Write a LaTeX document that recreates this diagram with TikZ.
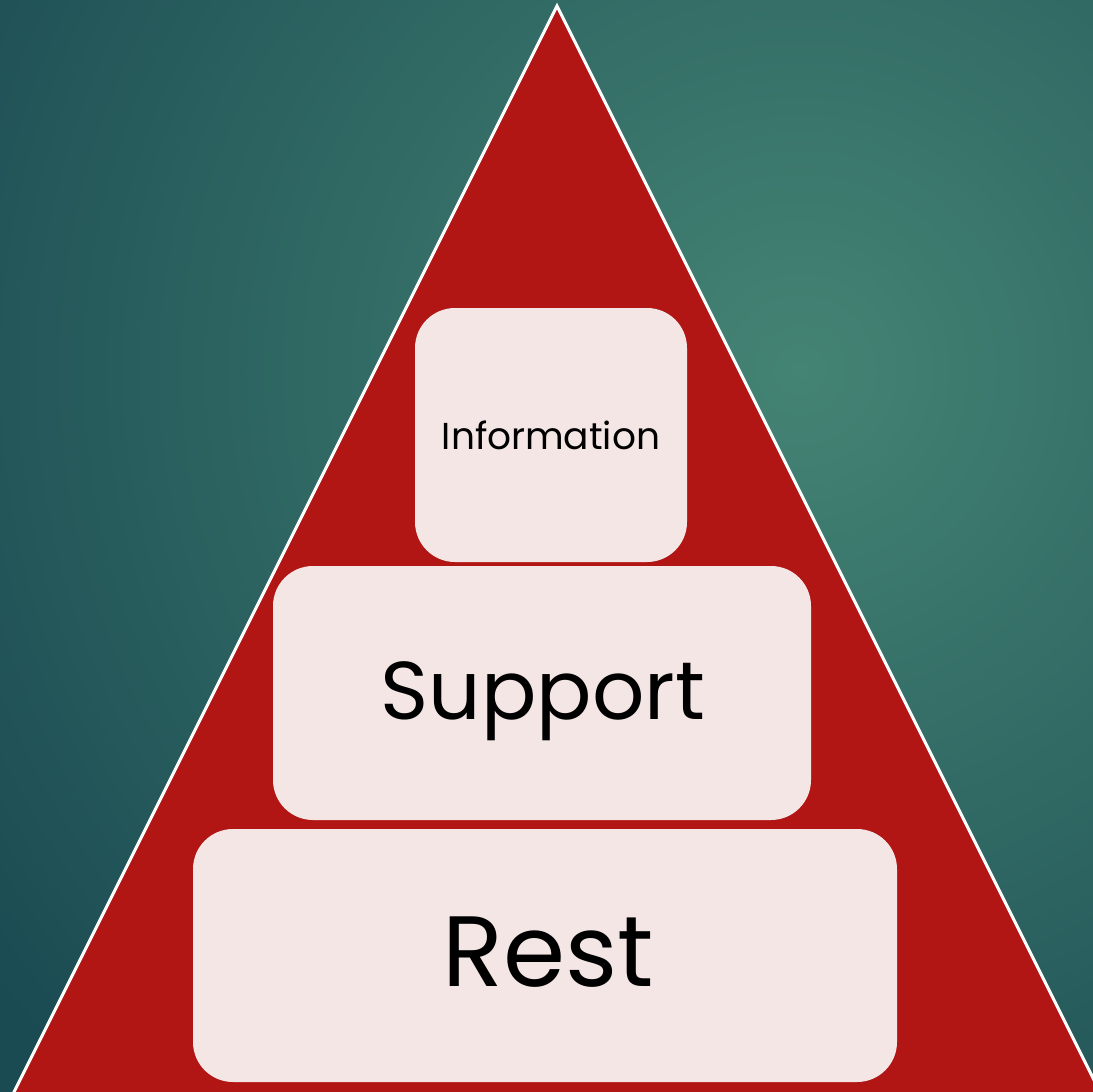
\documentclass[tikz,border=0pt]{standalone}
\usepackage{fontspec}
\setmainfont{Poppins}
\definecolor{bgInner}{HTML}{448474}
\definecolor{bgOuter}{HTML}{1A4A52}
\definecolor{pyramidRed}{HTML}{B11615}
\definecolor{boxFill}{HTML}{F5E6E6}
\tikzset{
  tier/.style={fill=boxFill, draw=none, rounded corners=40pt},
  tierlabel/.style={text=black, anchor=center, inner sep=0pt}
}
\begin{document}
\begin{tikzpicture}[x=1pt,y=-1pt]
  % canvas
  \useasboundingbox (0,0) rectangle (1093,1092);
  \begin{scope}
    \clip (0,0) rectangle (1093,1092);
    \fill[bgOuter] (0,0) rectangle (1093,1092);
    \shade[inner color=bgInner, outer color=bgOuter] (800,370) circle[radius=1020];
    % pyramid
    \filldraw[fill=pyramidRed, draw=white, line width=3pt, line join=miter]
      (557,6) -- (-5,1130) -- (1119,1130) -- cycle;
  \end{scope}
  % tiers
  \fill[tier] (415,308) rectangle (687,562);
  \node[tierlabel, font=\fontsize{37.5}{37.5}\selectfont] (info) at (551,435) {Information};
  \fill[tier] (273,566) rectangle (811,820);
  \node[tierlabel, font=\fontsize{82}{82}\selectfont] (support) at (543,701) {Support};
  \fill[tier] (193,829) rectangle (897,1082);
  \node[tierlabel, font=\fontsize{100}{100}\selectfont] (rest) at (548,952) {Rest};
\end{tikzpicture}
\end{document}
